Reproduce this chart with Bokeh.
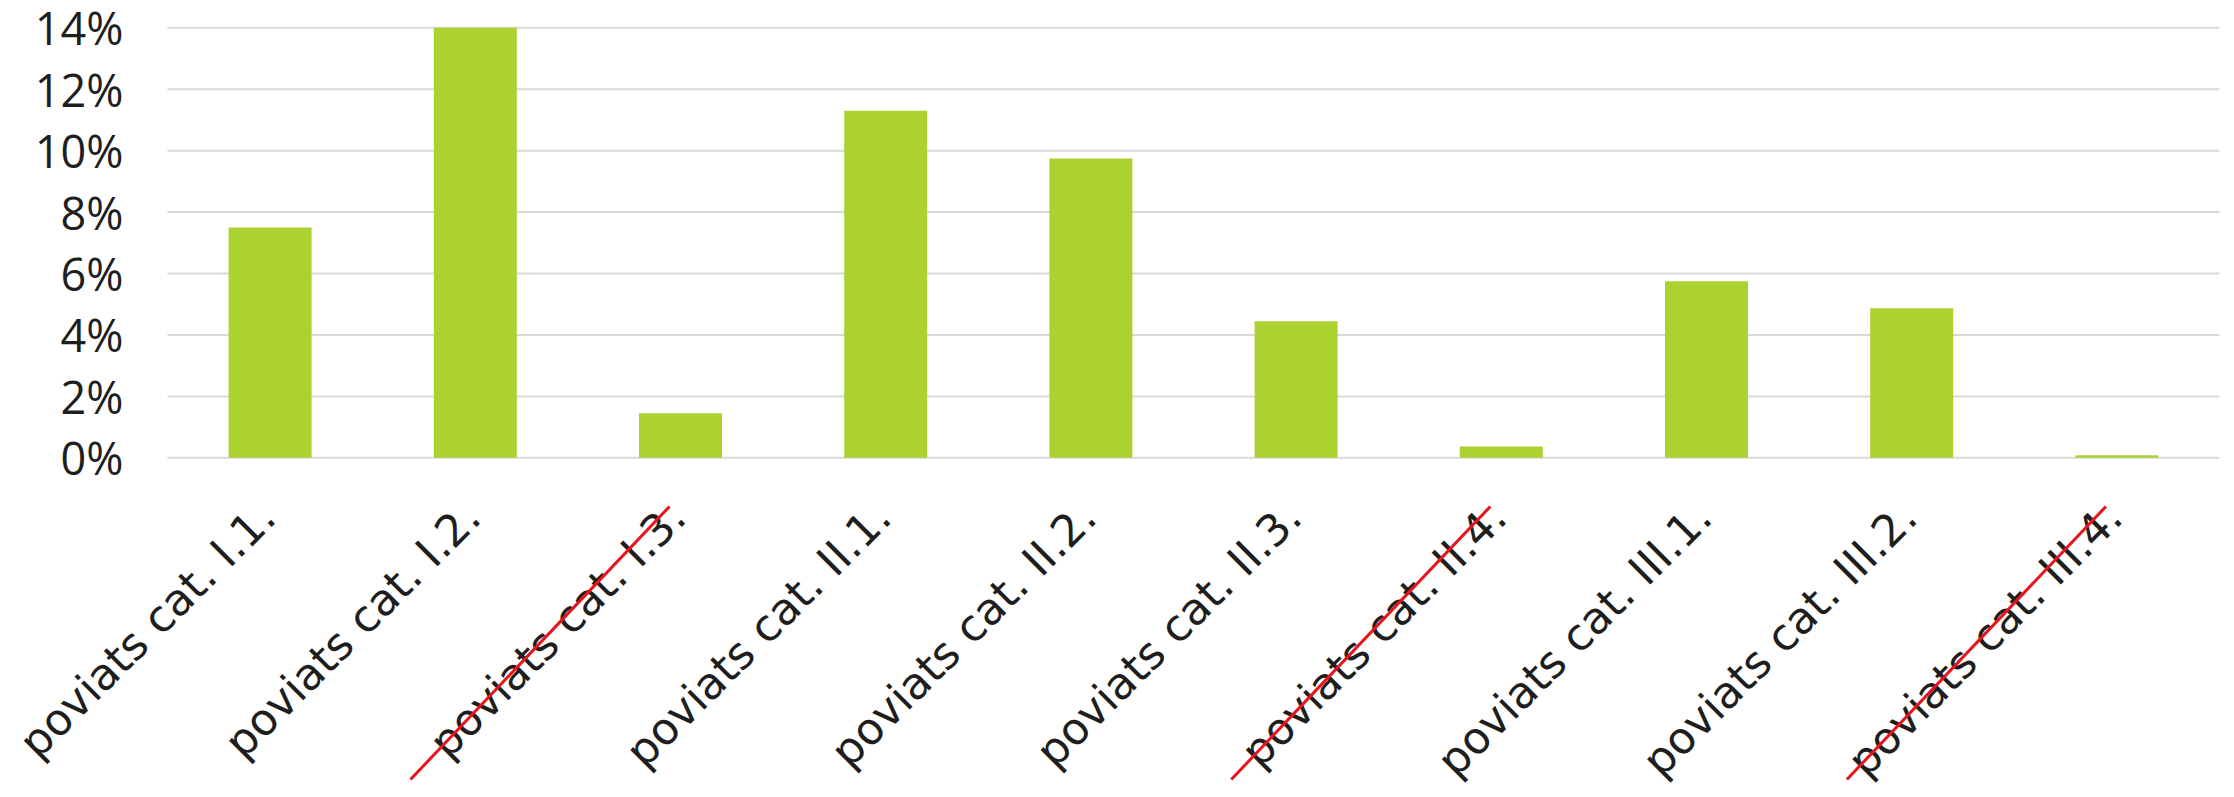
import math
from bokeh.plotting import figure
from bokeh.models import Range1d, ColumnDataSource
from bokeh.embed import file_html
from bokeh.resources import INLINE
from bokeh.core.properties import value

# ---------------- data ----------------
categories = [
    "poviats cat. I.1.", "poviats cat. I.2.", "poviats cat. I.3.",
    "poviats cat. II.1.", "poviats cat. II.2.", "poviats cat. II.3.",
    "poviats cat. II.4.", "poviats cat. III.1.", "poviats cat. III.2.",
    "poviats cat. III.4.",
]
shares = [7.5, 14.0, 1.45, 11.3, 9.75, 4.45, 0.37, 5.75, 4.87, 0.08]
struck_categories = ["poviats cat. I.3.", "poviats cat. II.4.", "poviats cat. III.4."]
y_ticks = [0, 2, 4, 6, 8, 10, 12, 14]
y_tick_labels = ["0%", "2%", "4%", "6%", "8%", "10%", "12%", "14%"]

# ---------------- layout (pixels) ----------------
W, H = 2234, 797
PLOT_LEFT, PLOT_RIGHT = 167.0, 2219.0
ZERO_Y, PX_PER_PCT = 457.3, 30.71
n = len(categories)
PX_PER_CAT = (PLOT_RIGHT - PLOT_LEFT) / n

def dx(px):  # pixel distance -> x data units
    return px / PX_PER_CAT

def dy(px):  # pixel distance -> y data units
    return px / PX_PER_PCT

TEXT_COLOR = "#1e1e1e"
BAR_COLOR = "#acd232"
GRID_COLOR = "#d9d9d9"
STRIKE_COLOR = "#e8141b"

p = figure(
    width=W, height=H,
    x_range=Range1d(-dx(PLOT_LEFT), dx(W - PLOT_LEFT)),
    y_range=Range1d(-dy(H - ZERO_Y), dy(ZERO_Y)),
    x_axis_location=None, y_axis_location=None,
    toolbar_location=None, output_backend="svg",
    min_border=0,
)
p.outline_line_color = None
p.grid.visible = False
p.background_fill_color = "white"
p.border_fill_color = "white"

# gridlines
p.segment(x0=[0] * len(y_ticks), x1=[n] * len(y_ticks), y0=y_ticks, y1=y_ticks,
          line_color=GRID_COLOR, line_width=2)

# bars
centers = [i + 0.5 for i in range(n)]
src = ColumnDataSource(dict(x=centers, top=shares, cat=categories))
p.vbar(x="x", top="top", bottom=0, width=dx(83), source=src,
       fill_color=BAR_COLOR, line_color=None)

# y tick labels
p.text(x=[-dx(PLOT_LEFT - 123)] * len(y_ticks), y=y_ticks, text=y_tick_labels,
       text_align="right", text_baseline="middle", text_font=value("Open Sans"),
       text_font_size="45px", text_color=TEXT_COLOR)

# x category labels (rotated 45 degrees)
p.text(x=[c + dx(-3) for c in centers], y=[-dy(509 - ZERO_Y)] * n, text=categories,
       angle=math.pi / 4, text_align="right", text_baseline="alphabetic",
       text_font=value("DejaVu Sans"), text_font_size="44px", text_color=TEXT_COLOR)

# red strike-through lines
sc = [centers[categories.index(c)] for c in struck_categories]
p.segment(x0=[c - dx(270) for c in sc], y0=[-dy(779 - ZERO_Y)] * len(sc),
          x1=[c - dx(11) for c in sc], y1=[-dy(506 - ZERO_Y)] * len(sc),
          line_color=STRIKE_COLOR, line_width=3)

open("out.html", "w").write(file_html(p, INLINE))
